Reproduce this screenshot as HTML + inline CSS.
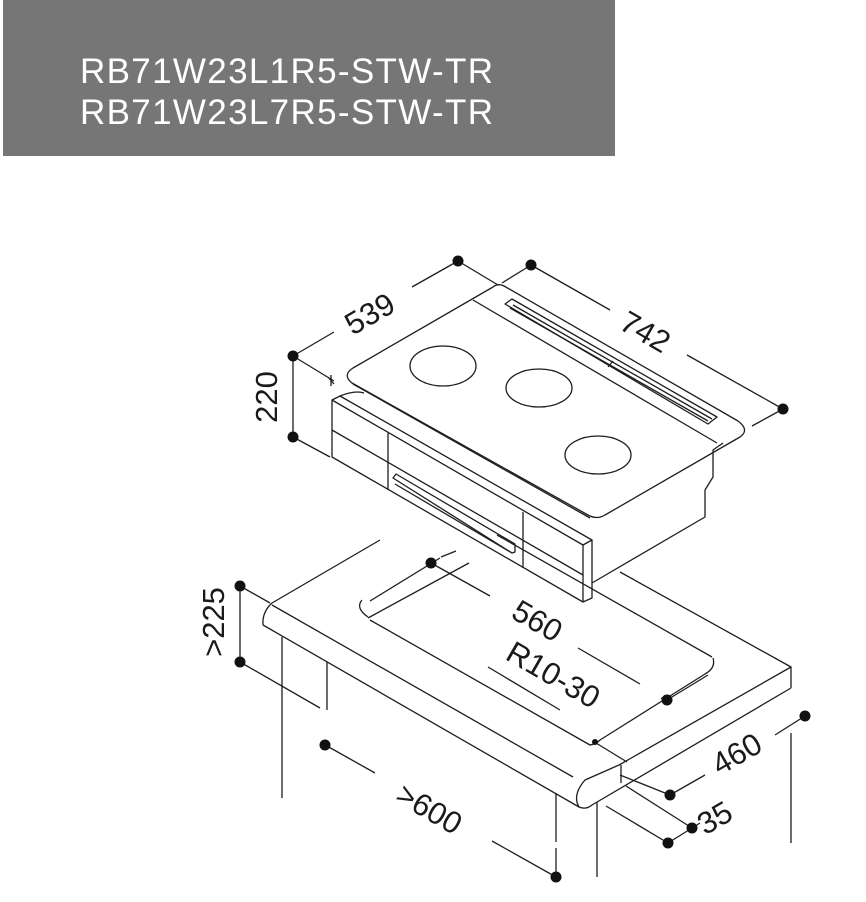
<!DOCTYPE html>
<html><head><meta charset="utf-8"><style>
html,body{margin:0;padding:0;background:#fff;width:866px;height:902px;overflow:hidden}
svg{display:block}
text{font-family:"Liberation Sans",sans-serif;fill:#1a1a1a}
</style></head><body>
<svg width="866" height="902" viewBox="0 0 866 902" xmlns="http://www.w3.org/2000/svg">
<rect x="3" y="0" width="612" height="156" fill="#767676"/>
<text x="80" y="83" font-size="35" textLength="413" style="fill:#fff">RB71W23L1R5-STW-TR</text>
<text x="80" y="124" font-size="35" textLength="413" style="fill:#fff">RB71W23L7R5-STW-TR</text>

<g fill="none" stroke="#1e1e1e" stroke-width="1.3" stroke-linejoin="round">
<path d="M493,287 Q498,283 504,286 L738,421 Q750,430 740,437 L605,515 Q597,520 588,515 L352,383 Q342,375 353,368 Z"/>
<path d="M353,384 L590,518"/>
<path d="M473,300 L717,443"/>
<ellipse cx="443" cy="366" rx="33" ry="20"/>
<ellipse cx="539" cy="388" rx="33" ry="19"/>
<ellipse cx="598" cy="455" rx="33" ry="19"/>
<path d="M505,304 L512,299 L717,417 L708,424 Z"/>
<path d="M510,308 L708,421 M513,305 L712,419"/>
<path d="M608,367 L613,361"/>
<path d="M332,400 L340,396 L592,540 L583,545 Z"/>
<path d="M332,400 L332,457 L583,602 L583,545"/>
<path d="M592,540 L592,598 L583,602"/>
<path d="M332,430 L583,575"/>
<path d="M388,433 L388,490 M523,512 L523,568"/>
<path d="M393,478 L396,474 L515,544 L515,552 L512,553 Z"/>
<path d="M395,484 L512,553"/>
<path d="M340,396 Q355,390 364,393"/>
<path d="M592,583 L705,517 L705,490 L713,477 L713,450 L723,443"/>
<path d="M293,356 L334,381 M328,377 L334,384 M331,375 L331,386"/>
<path d="M293,356 L293,437 M293,437 L330,457"/>
<path d="M293,356 L334,332 M412,287 L458,261 L498,285"/>
<path d="M502,283 L531,265 L610,310 M687,355 L783,409 L752,426"/>
<path d="M380,540 L272,603 Q262,612 263,625"/>
<path d="M272,605 L573,777"/>
<path d="M263,625 L579,807 Q586,810 592,805 L791,688"/>
<path d="M579,807 Q572,795 585,780 L619,765 L791,667 L791,688"/>
<path d="M621,765 L621,783"/>
<path d="M282,637 L282,798 M327,662 L327,710 M556,793 L556,842 M556,848 L556,877 M597,802 L597,877 M791,733 L791,843"/>
<path d="M620,572 L791,667"/>
<path d="M370,601 L440,558 M368,618 L469,563 M370,620 L590,745 Q596,744 600,740 L705,674 Q716,668 713,658 M712,657 L497,535 M441,557 L456,551"/>
<path d="M368,617 Q355,608 362,600"/>
<path d="M240,586 L240,662 M240,586 L270,603 M240,662 L320,708"/>
<path d="M327,746 L375,773 M492,841 L556,877"/>
<path d="M431,563 L490,596 M578,648 L640,684 M661,698 L667,700 L708,675"/>
<path d="M488,667 L560,710 M596,743 L627,762"/>
<path d="M620,775 L670,795 L705,775 M775,735 L805,716"/>
<path d="M626,786 L692,828 M606,806 L668,843 L692,828 L700,823"/>
</g>
<g fill="#111">
<circle cx="458" cy="261" r="5.5"/><circle cx="531" cy="265" r="5.5"/>
<circle cx="293" cy="356" r="5.5"/><circle cx="293" cy="437" r="5.5"/>
<circle cx="783" cy="409" r="5.5"/>
<circle cx="240" cy="586" r="5.5"/><circle cx="240" cy="662" r="5.5"/>
<circle cx="325" cy="745" r="5.5"/><circle cx="556" cy="877" r="5.5"/>
<circle cx="431" cy="563" r="5.5"/><circle cx="667" cy="700" r="5.5"/>
<circle cx="595" cy="742" r="3"/>
<circle cx="805" cy="716" r="5.5"/><circle cx="670" cy="795" r="5.5"/>
<circle cx="692" cy="828" r="5.5"/><circle cx="668" cy="843" r="5.5"/>
</g>
<g font-size="31" text-anchor="middle">
<text transform="translate(375,323) rotate(-30)">539</text>
<text transform="translate(640,341) rotate(30)">742</text>
<text transform="translate(277,397) rotate(-90)">220</text>
<text transform="translate(224,622) rotate(-90)">&gt;225</text>
<text transform="translate(532,630) rotate(30)">560</text>
<text transform="translate(548,684) rotate(30)">R10-30</text>
<text transform="translate(424,818) rotate(30)">&gt;600</text>
<text transform="translate(742,763) rotate(-30)">460</text>
<text transform="translate(720,827) rotate(-30)">35</text>
</g>
</svg>
</body></html>
